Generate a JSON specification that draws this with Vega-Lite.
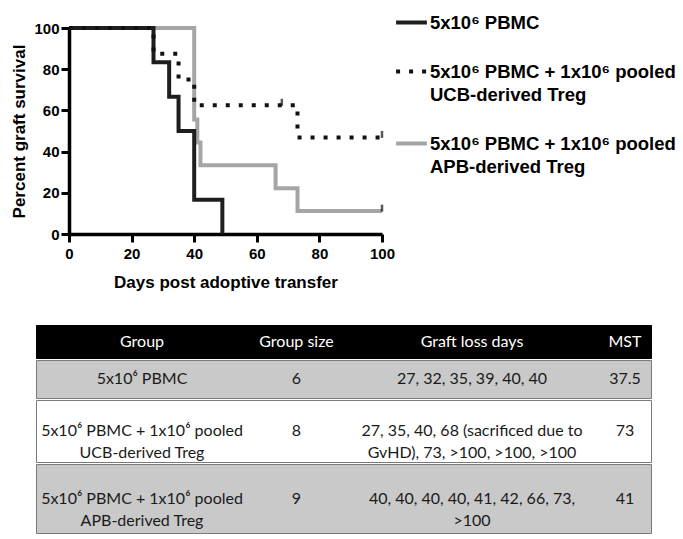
{
  "$schema": "https://vega.github.io/schema/vega-lite/v6.json",
  "background": "white",
  "padding": {"left": 10, "top": 5, "right": 5, "bottom": 5},
  "datasets": {
    "km": [
      {"group": "5x10⁶ PBMC + 1x10⁶ pooled\nAPB-derived Treg", "day": 0, "survival": 100},
      {"group": "5x10⁶ PBMC + 1x10⁶ pooled\nAPB-derived Treg", "day": 40, "survival": 55.56},
      {"group": "5x10⁶ PBMC + 1x10⁶ pooled\nAPB-derived Treg", "day": 41, "survival": 44.44},
      {"group": "5x10⁶ PBMC + 1x10⁶ pooled\nAPB-derived Treg", "day": 42, "survival": 33.33},
      {"group": "5x10⁶ PBMC + 1x10⁶ pooled\nAPB-derived Treg", "day": 66, "survival": 22.22},
      {"group": "5x10⁶ PBMC + 1x10⁶ pooled\nAPB-derived Treg", "day": 73, "survival": 11.11},
      {"group": "5x10⁶ PBMC + 1x10⁶ pooled\nAPB-derived Treg", "day": 100, "survival": 11.11},
      {"group": "5x10⁶ PBMC", "day": 0, "survival": 100},
      {"group": "5x10⁶ PBMC", "day": 27, "survival": 83.33},
      {"group": "5x10⁶ PBMC", "day": 32, "survival": 66.67},
      {"group": "5x10⁶ PBMC", "day": 35, "survival": 50},
      {"group": "5x10⁶ PBMC", "day": 40, "survival": 16.67},
      {"group": "5x10⁶ PBMC", "day": 49, "survival": 0},
      {"group": "5x10⁶ PBMC + 1x10⁶ pooled\nUCB-derived Treg", "day": 0, "survival": 100},
      {"group": "5x10⁶ PBMC + 1x10⁶ pooled\nUCB-derived Treg", "day": 27, "survival": 87.5},
      {"group": "5x10⁶ PBMC + 1x10⁶ pooled\nUCB-derived Treg", "day": 35, "survival": 75},
      {"group": "5x10⁶ PBMC + 1x10⁶ pooled\nUCB-derived Treg", "day": 40, "survival": 62.5},
      {"group": "5x10⁶ PBMC + 1x10⁶ pooled\nUCB-derived Treg", "day": 73, "survival": 46.88},
      {"group": "5x10⁶ PBMC + 1x10⁶ pooled\nUCB-derived Treg", "day": 100, "survival": 46.88}
    ],
    "censored": [
      {"group": "5x10⁶ PBMC + 1x10⁶ pooled\nUCB-derived Treg", "day": 68, "survival": 62.5},
      {"group": "5x10⁶ PBMC + 1x10⁶ pooled\nUCB-derived Treg", "day": 100, "survival": 46.88},
      {"group": "5x10⁶ PBMC + 1x10⁶ pooled\nAPB-derived Treg", "day": 100, "survival": 11.11}
    ],
    "table": [
      {"row": "header", "col": 1, "text": "Group"},
      {"row": "header", "col": 2, "text": "Group size"},
      {"row": "header", "col": 3, "text": "Graft loss days"},
      {"row": "header", "col": 4, "text": "MST"},
      {"row": "r1", "col": 1, "text": "5x10⁶ PBMC"},
      {"row": "r1", "col": 2, "text": "6"},
      {"row": "r1", "col": 3, "text": "27, 32, 35, 39, 40, 40"},
      {"row": "r1", "col": 4, "text": "37.5"},
      {"row": "r2", "col": 1, "text": "5x10⁶ PBMC + 1x10⁶ pooled\nUCB-derived Treg"},
      {"row": "r2", "col": 2, "text": "8"},
      {"row": "r2", "col": 3, "text": "27, 35, 40, 68 (sacrificed due to\nGvHD), 73, >100, >100, >100"},
      {"row": "r2", "col": 4, "text": "73"},
      {"row": "r3", "col": 1, "text": "5x10⁶ PBMC + 1x10⁶ pooled\nAPB-derived Treg"},
      {"row": "r3", "col": 2, "text": "9"},
      {"row": "r3", "col": 3, "text": "40, 40, 40, 40, 41, 42, 66, 73,\n>100"},
      {"row": "r3", "col": 4, "text": "41"}
    ]
  },
  "spacing": 34,
  "resolve": {
    "scale": {"color": "independent", "strokeDash": "independent"},
    "legend": {"color": "independent", "strokeDash": "independent"}
  },
  "vconcat": [
    {
      "width": 346,
      "height": 206,
      "view": {"stroke": null},
      "layer": [
        {
          "data": {"name": "km"},
          "mark": {"type": "line", "interpolate": "step-after", "strokeWidth": 4},
          "encoding": {
            "x": {"field": "day", "type": "quantitative", "scale": {"domain": [0, 100], "range": [33, 346], "nice": false},
                  "axis": {"values": [0, 20, 40, 60, 80, 100], "title": "Days post adoptive transfer", "labelFlush": false, "labelPadding": 4, "titlePadding": 13}},
            "y": {"field": "survival", "type": "quantitative", "scale": {"domain": [0, 100], "nice": false},
                  "axis": {"values": [0, 20, 40, 60, 80, 100], "title": "Percent graft survival", "labelFlush": false, "labelPadding": 2, "titlePadding": 5, "offset": -33}},
            "color": {"field": "group", "type": "nominal",
                      "scale": {"domain": ["5x10⁶ PBMC", "5x10⁶ PBMC + 1x10⁶ pooled\nUCB-derived Treg", "5x10⁶ PBMC + 1x10⁶ pooled\nAPB-derived Treg"],
                                "range": ["#1e1e1e", "#111111", "#a5a5a5"]},
                      "legend": {"title": null, "orient": "none", "legendX": 358, "legendY": -23, "direction": "vertical",
                                 "symbolType": "stroke", "symbolSize": 950, "symbolStrokeWidth": 4,
                                 "labelFont": "Liberation Sans", "labelFontWeight": "bold", "labelFontSize": 18.5, "labelColor": "#000000",
                                 "labelLimit": 400, "labelOffset": 1, "rowPadding": 22, "padding": 0,
                                 "labelExpr": "split(datum.label, '\\n')"}},
            "strokeDash": {"field": "group", "type": "nominal",
                           "scale": {"domain": ["5x10⁶ PBMC", "5x10⁶ PBMC + 1x10⁶ pooled\nUCB-derived Treg", "5x10⁶ PBMC + 1x10⁶ pooled\nAPB-derived Treg"],
                                     "range": [[1, 0], [4, 9], [1, 0]]},
                           "legend": {"title": null, "orient": "none", "legendX": 358, "legendY": -23, "direction": "vertical",
                                      "symbolType": "stroke", "symbolSize": 950, "symbolStrokeWidth": 4,
                                      "labelFont": "Liberation Sans", "labelFontWeight": "bold", "labelFontSize": 18.5, "labelColor": "#000000",
                                      "labelLimit": 400, "labelOffset": 1, "rowPadding": 22, "padding": 0,
                                      "labelExpr": "split(datum.label, '\\n')"}}
          }
        },
        {
          "data": {"name": "censored"},
          "mark": {"type": "tick", "orient": "vertical", "size": 7, "thickness": 2.5, "yOffset": -3, "color": "#111111"},
          "encoding": {
            "x": {"field": "day", "type": "quantitative"},
            "y": {"field": "survival", "type": "quantitative"}
          }
        }
      ]
    },
    {
      "spacing": 0,
      "vconcat": [
        {
          "width": 615, "height": 33,
          "view": {"fill": "#000000", "stroke": "#000000", "strokeWidth": 1},
          "data": {"name": "table"},
          "transform": [{"filter": "datum.row === 'header'"}],
          "mark": {"type": "text", "font": "Lato", "fontSize": 16, "color": "#ffffff", "align": "center", "baseline": "middle", "lineBreak": "\n", "lineHeight": 22},
          "encoding": {
            "x": {"field": "col", "type": "quantitative", "scale": {"domain": [1, 2, 3, 4], "range": [106, 260.5, 436, 589], "nice": false, "zero": false}, "axis": null},
            "text": {"field": "text", "type": "nominal"}
          }
        },
        {
          "width": 615, "height": 38,
          "view": {"fill": "#c9c9c9", "stroke": "#7a7a7a", "strokeWidth": 1},
          "data": {"name": "table"},
          "transform": [{"filter": "datum.row === 'r1'"}],
          "mark": {"type": "text", "font": "Lato", "fontSize": 16, "color": "#1a1a1a", "align": "center", "baseline": "middle", "lineBreak": "\n", "lineHeight": 22},
          "encoding": {
            "x": {"field": "col", "type": "quantitative", "scale": {"domain": [1, 2, 3, 4], "range": [106, 260.5, 436, 589], "nice": false, "zero": false}, "axis": null},
            "text": {"field": "text", "type": "nominal"}
          }
        },
        {
          "width": 615, "height": 62,
          "view": {"fill": "#ffffff", "stroke": "#7a7a7a", "strokeWidth": 1},
          "data": {"name": "table"},
          "transform": [{"filter": "datum.row === 'r2'"}],
          "mark": {"type": "text", "font": "Lato", "fontSize": 16, "color": "#1a1a1a", "align": "center", "baseline": "middle", "lineBreak": "\n", "lineHeight": 22},
          "encoding": {
            "x": {"field": "col", "type": "quantitative", "scale": {"domain": [1, 2, 3, 4], "range": [106, 260.5, 436, 589], "nice": false, "zero": false}, "axis": null},
            "text": {"field": "text", "type": "nominal"}
          }
        },
        {
          "width": 615, "height": 69,
          "view": {"fill": "#c9c9c9", "stroke": "#7a7a7a", "strokeWidth": 1},
          "data": {"name": "table"},
          "transform": [{"filter": "datum.row === 'r3'"}],
          "mark": {"type": "text", "font": "Lato", "fontSize": 16, "color": "#1a1a1a", "align": "center", "baseline": "middle", "lineBreak": "\n", "lineHeight": 22},
          "encoding": {
            "x": {"field": "col", "type": "quantitative", "scale": {"domain": [1, 2, 3, 4], "range": [106, 260.5, 436, 589], "nice": false, "zero": false}, "axis": null},
            "text": {"field": "text", "type": "nominal"}
          }
        }
      ]
    }
  ],
  "config": {
    "view": {"stroke": null},
    "axis": {
      "grid": false,
      "domainColor": "#000000", "domainWidth": 3.5,
      "tickColor": "#000000", "tickWidth": 3, "tickSize": 8,
      "labelFont": "Liberation Sans", "labelFontWeight": "bold", "labelFontSize": 15, "labelColor": "#000000",
      "titleFont": "Liberation Sans", "titleFontWeight": "bold", "titleFontSize": 17, "titleColor": "#000000"
    },
    "style": {"guide-label": {"lineHeight": 23}}
  }
}
